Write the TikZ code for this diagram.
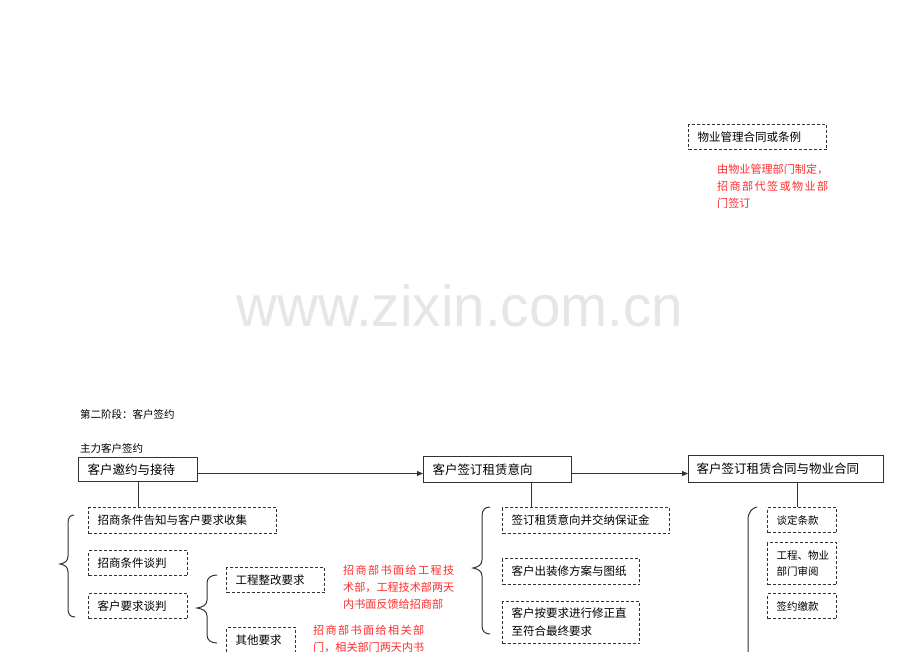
\documentclass[tikz,border=0pt]{standalone}
\usepackage{fontspec}
\setmainfont{Liberation Sans}
\newfontfamily\cjk{Noto Sans CJK SC}
\newfontfamily\cjkwide[LetterSpace=12.5]{Noto Sans CJK SC}
\usetikzlibrary{arrows.meta}
\definecolor{redtxt}{HTML}{FF2B2B}
\definecolor{wmgray}{HTML}{E6E6E6}
\definecolor{lin}{HTML}{333333}
\begin{document}
\begin{tikzpicture}[x=1pt,y=-1pt,
  mainbox/.style={draw=lin,line width=1pt,anchor=north west,inner xsep=9pt,inner ysep=0pt,align=left,font=\cjk\fontsize{12.5}{15}\selectfont},
  dbox/.style={draw=lin,line width=1pt,dash pattern=on 3pt off 2pt,anchor=north west,inner xsep=9pt,inner ysep=0pt,align=left,font=\cjk\fontsize{11.5}{18}\selectfont},
  sbox/.style={dbox,font=\cjk\fontsize{10.5}{16}\selectfont},
  note/.style={text=redtxt,anchor=north west,inner sep=0pt,align=left,font=\cjk\fontsize{11.1}{17}\selectfont},
  head/.style={anchor=west,inner sep=0pt,font=\cjk\fontsize{10.5}{12}\selectfont},
  arr/.style={draw=lin,line width=1pt,-{Triangle[length=6pt,width=5pt]}},
  conn/.style={draw=lin,line width=1pt},
  brace/.style={draw=lin,line width=1pt}]
\useasboundingbox (0,0) rectangle (920,651);
\clip (0,0) rectangle (920,651);

% top part
\node[dbox,text width=120pt,minimum height=25pt] (t0) at (688,124) {物业管理合同或条例};
\node[note] (n0) at (717,164) {由物业管理部门制定，\\{\cjkwide 招商部代签或物业部}\\门签订};

% watermark
\node[text=wmgray,font=\fontsize{58}{58}\selectfont,inner sep=0pt,anchor=base,xscale=0.976] (wm) at (460,326) {www.zixin.com.cn};

% headings
\node[head] (h1) at (80,414) {第二阶段：客户签约};
\node[head] (h2) at (80,448) {主力客户签约};

% main boxes
\node[mainbox,text width=101pt,minimum height=24pt] (b1) at (78,457) {客户邀约与接待};
\node[mainbox,text width=130pt,minimum height=26pt] (b2) at (423,456) {客户签订租赁意向};
\node[mainbox,text width=179pt,minimum height=27pt,inner xsep=8pt] (b3) at (688,455) {客户签订租赁合同与物业合同};

\draw[arr] ([yshift=-4pt]b1.east) -- ([yshift=-4pt]b1.east -| b2.west);
\draw[arr] ([yshift=-4pt]b2.east) -- ([yshift=-4pt]b2.east -| b3.west);

% column 1
\node[dbox,text width=170pt,minimum height=26pt] (d1) at (88,507) {招商条件告知与客户要求收集};
\node[dbox,text width=81pt,minimum height=25pt] (d2) at (88,550) {招商条件谈判};
\node[dbox,text width=81pt,minimum height=25pt] (d3) at (88,593) {客户要求谈判};
\node[dbox,text width=80pt,minimum height=25pt] (e1) at (226,567) {工程整改要求};
\node[dbox,text width=51pt,minimum height=26pt] (e2) at (226,627) {其他要求};
\node[note] (n1) at (343,565) {{\cjkwide 招商部书面给工程技}\\术部，工程技术部两天\\内书面反馈给招商部};
\node[note] (n2) at (313,625) {{\cjkwide 招商部书面给相关部}\\门，相关部门两天内书};

\coordinate (c1) at (138,0);
\draw[conn] (b1.south -| c1) -- (d1.north -| c1);

\draw[brace] (74,515) .. controls (70,515) and (68,518) .. (68,523) -- (68,556)
  .. controls (68,561) and (65,563) .. (60,564) .. controls (65,565) and (68,567) .. (68,572)
  -- (68,609) .. controls (68,614) and (70,617) .. (75,617);
\draw[brace] (217,575) .. controls (211,575) and (207,578) .. (207,583) -- (207,600)
  .. controls (207,605) and (203,607) .. (197,608) .. controls (203,609) and (207,611) .. (207,616)
  -- (207,635) .. controls (207,640) and (211,643) .. (217,643);

% column 2
\node[dbox,text width=149pt,minimum height=26pt] (f1) at (502,507) {签订租赁意向并交纳保证金};
\node[dbox,text width=119pt,minimum height=26pt] (f2) at (502,558) {客户出装修方案与图纸};
\node[dbox,text width=119pt,minimum height=42pt] (f3) at (502,601) {客户按要求进行修正直\\至符合最终要求};

\coordinate (c2) at (531,0);
\draw[conn] (b2.south -| c2) -- (f1.north -| c2);

\draw[brace] (490,507) .. controls (485,507) and (482,510) .. (482,516) -- (482,560)
  .. controls (482,565) and (478,567) .. (473,568) .. controls (478,569) and (482,571) .. (482,576)
  -- (482,626) .. controls (482,631) and (485,634) .. (490,634);

% column 3
\node[sbox,text width=51pt,minimum height=25pt] (g1) at (767,507) {谈定条款};
\node[sbox,text width=51pt,minimum height=42pt] (g2) at (767,542) {工程、物业\\部门审阅};
\node[sbox,text width=51pt,minimum height=25pt] (g3) at (767,593) {签约缴款};

\coordinate (c3) at (797,0);
\draw[conn] (b3.south -| c3) -- (g1.north -| c3);

\draw[brace] (757,507) .. controls (752,508) and (748,512) .. (748,520) -- (748,665);
\end{tikzpicture}
\end{document}
